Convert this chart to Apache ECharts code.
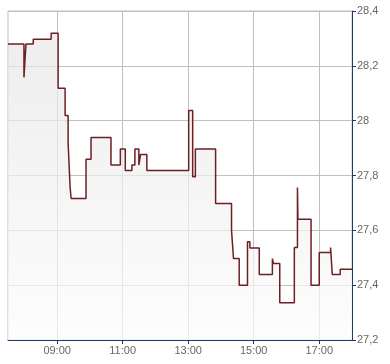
<!DOCTYPE html>
<html>
<head>
<meta charset="utf-8">
<script src="https://cdn.jsdelivr.net/npm/echarts@6/dist/echarts.min.js"></script>
<style>
html,body{margin:0;padding:0;background:#fff;}
#c{width:390px;height:364px;}
</style>
</head>
<body>
<div id="c"></div>
<script>
// time in decimal hours
const times = [7.5, 7.987, 8.048, 8.27, 8.817, 9.03, 9.243, 9.335, 9.395, 9.426,
  9.882, 10.034, 10.643, 10.929, 11.08, 11.281, 11.373, 11.494, 11.546, 11.738,
  13.015, 13.137, 13.219, 13.837, 14.323, 14.384, 14.557, 14.81, 14.883, 15.17,
  15.57, 15.601, 15.795, 16.24, 16.335, 16.35, 16.75, 17.0, 17.347, 17.397, 17.64, 18.0];
const prices = [28.28, 28.158, 28.28, 28.297, 28.319, 28.118, 28.019, 27.919, 27.759, 27.716,
  27.859, 27.939, 27.838, 27.897, 27.818, 27.838, 27.897, 27.838, 27.877, 27.818,
  28.037, 27.795, 27.897, 27.698, 27.6, 27.497, 27.4, 27.558, 27.536, 27.439,
  27.497, 27.479, 27.336, 27.537, 27.756, 27.64, 27.4, 27.519, 27.537, 27.439, 27.458, 27.458];
const xTicks = [9, 11, 13, 15, 17];
const yMin = 27.2, yMax = 28.4, yStep = 0.2;

const data = times.map((t, i) => [t, prices[i]]);
const chart = echarts.init(document.getElementById('c'), null, {renderer: 'canvas'});
const fmtH = v => String(Math.round(v)).padStart(2, '0') + ':00';
chart.setOption({
  animation: false,
  backgroundColor: '#fff',
  grid: {left: 8, right: 38, top: 11, bottom: 24, show: true, borderColor: '#c0c0c0', borderWidth: 1, backgroundColor: 'transparent'},
  xAxis: {
    type: 'value', min: 7.5, max: 18,
    axisLine: {show: true, onZero: false, lineStyle: {color: '#1c3a6a', width: 1}},
    axisTick: {show: true, customValues: xTicks, length: 4, lineStyle: {color: '#1c3a6a'}},
    axisLabel: {customValues: xTicks, formatter: fmtH, color: '#666', fontSize: 11, fontFamily: 'Liberation Sans, Arial, sans-serif', margin: 5},
    splitLine: {show: true, lineStyle: {color: '#c0c0c0', width: 1}}
  },
  yAxis: {
    type: 'value', position: 'right', min: yMin, max: yMax, interval: yStep,
    axisLine: {show: true, lineStyle: {color: '#1c3a6a', width: 1}},
    axisTick: {show: true, length: 4, lineStyle: {color: '#1c3a6a'}},
    axisLabel: {formatter: v => String(Number(v.toFixed(1))).replace('.', ','), color: '#666', fontSize: 11, fontFamily: 'Liberation Sans, Arial, sans-serif', margin: 5},
    splitLine: {show: true, lineStyle: {color: '#c0c0c0', width: 1}}
  },
  series: [{
    type: 'line', step: 'end', data: data, showSymbol: false, symbol: 'none',
    lineStyle: {color: '#6e1f25', width: 1.5},
    areaStyle: {origin: 'start', color: new echarts.graphic.LinearGradient(0, 0, 0, 1, [
      {offset: 0, color: '#e6e6e6'}, {offset: 1, color: '#fcfcfc'}
    ])}
  }]
});
</script>
</body>
</html>
